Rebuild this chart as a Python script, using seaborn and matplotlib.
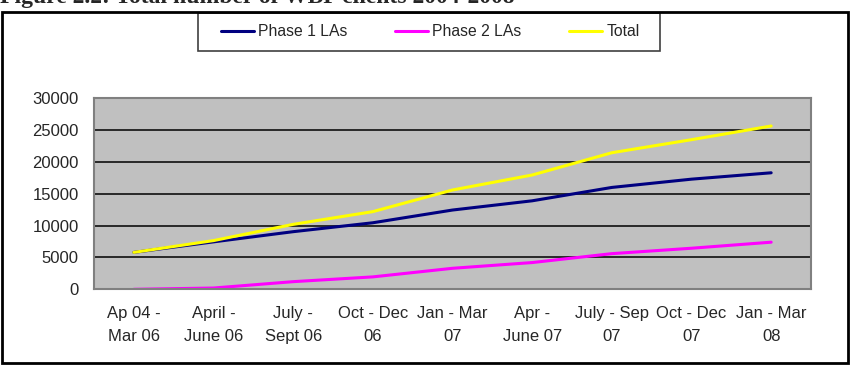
import numpy as np
import pandas as pd
import matplotlib.pyplot as plt
import seaborn as sns
from matplotlib.patches import Rectangle

# quarters shown on the x axis
periods = ['Ap 04 -\nMar 06', 'April -\nJune 06', 'July -\nSept 06', 'Oct - Dec\n06',
           'Jan - Mar\n07', 'Apr -\nJune 07', 'July - Sep\n07', 'Oct - Dec\n07', 'Jan - Mar\n08']

# values
phase1 = [5800, 7450, 9050, 10450, 12450, 13900, 16000, 17300, 18300]
phase2 = [0, 200, 1200, 1950, 3300, 4200, 5600, 6450, 7400]
total = [5800, 7650, 10200, 12200, 15600, 17950, 21450, 23500, 25650]

series_names = ['Phase 1 LAs', 'Phase 2 LAs', 'Total']
colors = {'Phase 1 LAs': '#000080', 'Phase 2 LAs': '#FF00FF', 'Total': '#FFFF00'}

df = pd.DataFrame({
    'period': periods * 3,
    'clients': phase1 + phase2 + total,
    'series': np.repeat(series_names, len(periods)),
})

sns.set_style('white')
plt.rcParams['font.family'] = ['Liberation Sans', 'DejaVu Sans']

fig = plt.figure(figsize=(8.57, 3.66), dpi=100)
ax = fig.add_axes([94 / 857, 1 - 289.3 / 366, (811 - 94) / 857, (289.3 - 98.3) / 366])
ax.set_facecolor('#C0C0C0')

sns.lineplot(data=df, x='period', y='clients', hue='series', hue_order=series_names,
             palette=colors, linewidth=2.2, sort=False, ax=ax, legend=False)

ax.set_xlim(-0.5, len(periods) - 0.5)
ax.set_ylim(0, 30000)
ax.set_yticks(range(0, 30001, 5000))
ax.set_yticklabels([str(v) for v in range(0, 30001, 5000)])
for v in range(5000, 30001, 5000):
    ax.axhline(v, color='black', lw=1.1, zorder=1)

# category boundaries as major ticks, labels on minor ticks
ax.set_xticks(np.arange(-0.5, len(periods), 1.0))
ax.set_xticklabels([])
ax.set_xticks(range(len(periods)), minor=True)
ax.set_xticklabels(periods, minor=True, fontsize=12, linespacing=1.7)
ax.tick_params(axis='x', which='minor', length=0, pad=12)
ax.tick_params(axis='x', which='major', length=6, width=1, color='#808080', direction='out')
ax.tick_params(axis='y', length=6, width=1, color='#808080', direction='out', pad=5,
               labelsize=12)
ax.set_xlabel('')
ax.set_ylabel('')
for s in ax.spines.values():
    s.set_color('#808080')
    s.set_linewidth(1.5)

# legend (box drawn separately)
handles = [plt.Line2D([], [], color=colors[n], lw=2.2) for n in series_names]
fig.legend(handles, series_names, ncol=3, loc='center',
           bbox_to_anchor=(430.5 / 857, 1 - 31.7 / 366), frameon=False,
           fontsize=11.3, handlelength=2.05, handletextpad=0.3, columnspacing=3.05,
           borderpad=0)
fig.patches.append(Rectangle((198 / 857, 1 - 51 / 366), 462 / 857, 38.5 / 366,
                             transform=fig.transFigure, fill=False,
                             edgecolor='#404040', lw=1.2))

# outer chart frame
fig.patches.append(Rectangle((2 / 857, 3 / 366), 846 / 857, 351 / 366,
                             transform=fig.transFigure, fill=False,
                             edgecolor='black', lw=2))

# caption cut off at the top of the picture
fig.text(0.0, 1 - 2.5 / 366, 'Figure 2.2: Total number of WBP clients 2004-2008',
         fontsize=17, fontweight='bold', family=['Liberation Serif', 'DejaVu Serif'],
         va='baseline', ha='left')

fig.savefig('out.png', dpi=100)
